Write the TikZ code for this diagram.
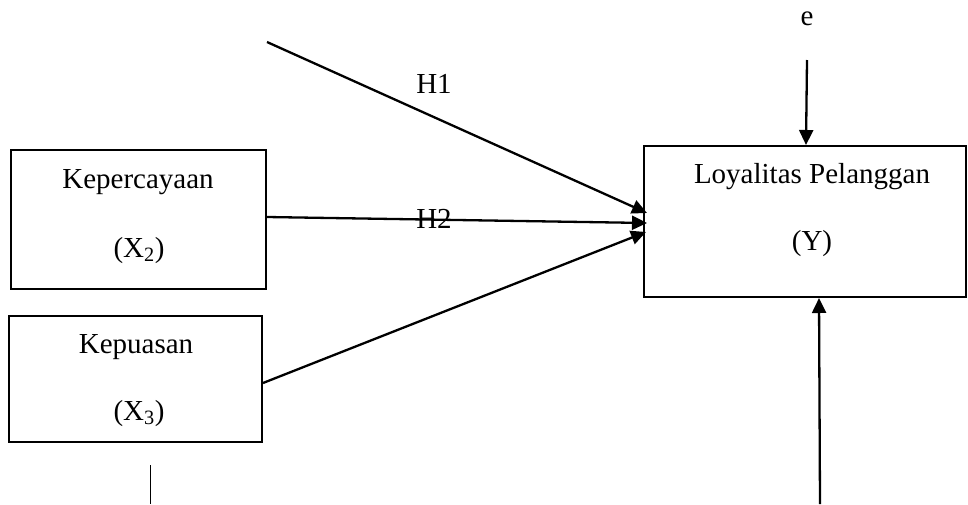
\documentclass[tikz,border=0pt]{standalone}
\usepackage{fontspec}
\setmainfont{Liberation Serif}
\usetikzlibrary{arrows.meta}
\begin{document}
\begin{tikzpicture}[x=1pt,y=-1pt,
  box/.style={draw,line width=2pt,rectangle,inner sep=0pt},
  txt/.style={anchor=base,inner sep=0pt,font=\fontsize{29}{30}\selectfont},
  arr/.style={line width=2.3pt,-{Triangle[length=15pt,width=14pt]}},
  ln/.style={line width=2.3pt}]
\useasboundingbox (0,0) rectangle (968,504);
% boxes
\node[box,minimum width=255pt,minimum height=139pt] (X2) at (138.5,219.5) {};
\node[box,minimum width=253pt,minimum height=126pt] (X3) at (135.5,379) {};
\node[box,minimum width=322pt,minimum height=151pt] (Y) at (805,221.5) {};
% texts
\node[txt] (tX2a) at (138,188) {Kepercayaan};
\node[txt] (tX2b) at (139,257) {(X\textsubscript{2})};
\node[txt] (tX3a) at (136,353) {Kepuasan};
\node[txt] (tX3b) at (139,420) {(X\textsubscript{3})};
\node[txt] (tYa) at (812,183) {Loyalitas Pelanggan};
\node[txt] (tYb) at (812,250) {(Y)};
\node[txt] (te) at (807,25) {e};
\node[txt] (tH1) at (434,93) {H1};
\node[txt] (tH2) at (434,228) {H2};
% free ends
\coordinate (h1s) at (267,42);
\coordinate (es) at (807,60);
\coordinate (bs) at (820,504);
\coordinate (ts) at (150,465);
\coordinate (te2) at (150,504);
% connectors
\draw[arr] (h1s) -- ([xshift=4pt,yshift=8.5pt]Y.west);
\draw[arr] ([yshift=2.5pt]X2.east) -- ([xshift=4pt,yshift=-1.5pt]Y.west);
\draw[arr] ([yshift=-4pt]X3.east) -- ([xshift=3pt,yshift=-10.5pt]Y.west);
\draw[arr] (es) -- ([xshift=1pt]Y.north);
\draw[arr] (bs) -- ([xshift=14pt]Y.south);
\draw[line width=0.8pt] (ts) -- (te2);
\end{tikzpicture}
\end{document}
